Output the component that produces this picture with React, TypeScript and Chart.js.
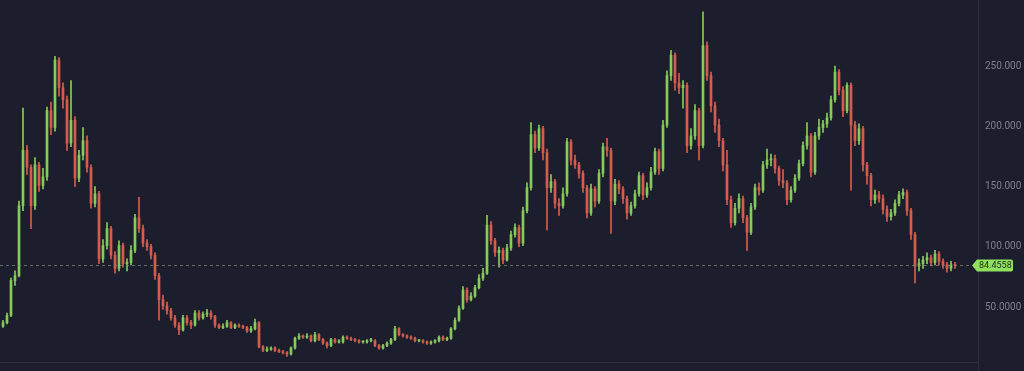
import React, { useEffect, useRef } from "react";
import { Chart, registerables } from "chart.js";

Chart.register(...registerables);

const firstOpen = 34;

const closes = [
  37, 43, 72, 76, 134, 180, 166, 134, 168, 151,
  158, 213, 199, 255, 232, 222, 186, 205, 157, 176,
  188, 166, 136, 144, 90, 101, 115, 93, 82, 101,
  86, 87, 97, 124, 115, 103, 100, 93, 76, 56,
  51, 47, 41, 35, 31, 41, 37, 35, 45, 41,
  44, 45, 42, 35, 33, 34, 37, 33, 35, 34,
  33, 30, 32, 37, 17, 14, 15, 16, 14, 13,
  12, 11, 16, 24, 26, 25, 26, 22, 27, 23,
  20, 18, 23, 21, 21, 25, 24, 23, 22, 21,
  21, 22, 22, 18, 16, 18, 20, 23, 32, 27,
  26, 25, 24, 22, 22, 21, 20, 21, 22, 25,
  23, 24, 32, 39, 49, 64, 56, 59, 66, 74,
  78, 118, 105, 95, 97, 89, 99, 110, 116, 103,
  130, 149, 193, 182, 198, 178, 149, 154, 136, 134,
  144, 187, 172, 168, 161, 149, 128, 148, 138, 161,
  183, 180, 138, 152, 148, 140, 128, 134, 144, 159,
  143, 149, 162, 179, 165, 201, 242, 259, 236, 232,
  234, 184, 192, 213, 184, 267, 242, 217, 201, 188,
  168, 139, 120, 132, 140, 124, 112, 133, 149, 147,
  168, 172, 173, 165, 155, 153, 139, 147, 157, 169,
  184, 192, 162, 192, 199, 202, 207, 222, 245, 230,
  213, 234, 201, 188, 198, 168, 159, 139, 143, 140,
  131, 125, 128, 136, 143, 145, 130, 110, 84, 86,
  89, 91, 87, 94, 88, 85, 82, 85, 84.4558,
];

const highs = [
  39, 45, 74, 80, 138, 215, 184, 168, 174, 170,
  165, 216, 220, 258, 257, 236, 225, 238, 208, 180,
  199, 192, 168, 150, 146, 106, 120, 117, 96, 105,
  103, 90, 101, 127, 141, 118, 106, 102, 95, 78,
  60, 54, 49, 43, 37, 43, 43, 39, 47, 47,
  46, 48, 47, 43, 36, 36, 39, 38, 36, 36,
  35, 34, 34, 40, 38, 18, 17, 17, 17, 15,
  14, 13, 17, 25, 28, 27, 28, 27, 29, 28,
  24, 21, 24, 24, 23, 26, 26, 25, 24, 23,
  22, 23, 24, 23, 19, 19, 21, 24, 34, 33,
  28, 27, 26, 25, 23, 23, 22, 22, 23, 26,
  26, 25, 33, 41, 51, 67, 66, 62, 68, 77,
  82, 126, 121, 107, 100, 99, 102, 113, 119, 118,
  133, 153, 203, 196, 201, 200, 181, 160, 156, 140,
  149, 190, 189, 176, 170, 163, 151, 152, 150, 164,
  186, 190, 182, 156, 155, 150, 142, 137, 147, 162,
  161, 153, 166, 182, 181, 205, 246, 263, 261, 244,
  238, 236, 198, 218, 215, 295, 270, 245, 220, 206,
  190, 180, 142, 136, 144, 142, 126, 136, 152, 153,
  171, 181, 177, 176, 167, 164, 155, 150, 160, 172,
  187, 203, 194, 195, 206, 205, 211, 225, 250, 247,
  233, 236, 236, 204, 202, 200, 170, 161, 147, 146,
  143, 134, 131, 139, 146, 148, 147, 132, 112, 90,
  92, 95, 93, 97, 96, 90, 87, 88, 87,
];

const lows = [
  33, 36, 42, 68, 75, 130, 160, 115, 131, 146,
  148, 155, 193, 196, 225, 215, 180, 183, 150, 154,
  172, 162, 132, 133, 86, 87, 98, 90, 78, 80,
  83, 80, 85, 95, 112, 100, 97, 90, 73, 39,
  48, 44, 39, 33, 27, 30, 35, 32, 34, 39,
  40, 42, 40, 33, 32, 32, 33, 32, 32, 33,
  32, 29, 29, 31, 16, 13, 13, 14, 13, 12,
  11, 9, 10, 15, 23, 24, 24, 21, 21, 22,
  19, 16, 17, 20, 20, 20, 23, 22, 21, 20,
  20, 20, 21, 17, 15, 15, 17, 19, 22, 26,
  25, 24, 23, 21, 21, 20, 19, 19, 20, 21,
  22, 22, 23, 31, 38, 48, 54, 55, 58, 65,
  72, 77, 102, 92, 83, 86, 88, 97, 108, 100,
  101, 128, 147, 178, 180, 172, 114, 145, 132, 126,
  132, 142, 168, 165, 157, 145, 124, 126, 133, 136,
  158, 175, 111, 135, 144, 136, 123, 126, 132, 142,
  139, 141, 147, 160, 160, 163, 199, 238, 230, 227,
  215, 178, 181, 189, 172, 182, 238, 212, 195, 183,
  163, 135, 116, 118, 128, 120, 97, 110, 131, 143,
  145, 165, 167, 161, 151, 149, 135, 137, 145, 155,
  167, 181, 158, 160, 189, 195, 199, 205, 220, 226,
  208, 211, 147, 184, 185, 163, 152, 134, 136, 137,
  127, 121, 122, 126, 134, 140, 126, 106, 70, 80,
  82, 86, 84, 85, 85, 82, 79, 80, 82,
];

const tickValues = [50, 100, 150, 200, 250];
const tickLabels = ["50.0000", "100.000", "150.000", "200.000", "250.000"];
const lastPrice = 84.4558;
const lastPriceLabel = "84.4558";

const GREEN = "#86cc58";
const RED = "#d65d4c";
const BG = "#1d1e2d";

export default function App() {
  const ref = useRef<HTMLCanvasElement>(null);

  useEffect(() => {
    if (!ref.current) return;
    const opens = closes.map((c, i) => (i === 0 ? firstOpen : closes[i - 1]));
    const colors = closes.map((c, i) => (c >= opens[i] ? GREEN : RED));
    const wickData = closes.map((c, i) => ({ x: i, y: [lows[i], highs[i]] }));
    const bodyData = closes.map((c, i) => ({
      x: i,
      y: [Math.min(opens[i], c), Math.max(opens[i], c)],
    }));

    const overlay = {
      id: "overlay",
      afterDatasetsDraw(chart: any) {
        const { ctx, chartArea, scales } = chart;
        ctx.save();
        ctx.strokeStyle = "#2d2f3f";
        ctx.lineWidth = 1;
        ctx.beginPath();
        ctx.moveTo(Math.round(chartArea.right) + 0.5, 0);
        ctx.lineTo(Math.round(chartArea.right) + 0.5, chart.height);
        ctx.moveTo(0, Math.round(chartArea.bottom) + 0.5);
        ctx.lineTo(Math.round(chartArea.right), Math.round(chartArea.bottom) + 0.5);
        ctx.stroke();

        const py = Math.round(scales.y.getPixelForValue(lastPrice)) + 0.5;
        ctx.strokeStyle = "rgba(130,145,120,0.7)";
        ctx.setLineDash([3, 3]);
        ctx.beginPath();
        ctx.moveTo(chartArea.left, py);
        ctx.lineTo(chartArea.right - 6, py);
        ctx.stroke();
        ctx.setLineDash([]);
        ctx.restore();
      },
      afterDraw(chart: any) {
        const { ctx, chartArea, scales } = chart;
        const py = scales.y.getPixelForValue(lastPrice);
        const left = chartArea.right - 6;
        ctx.save();
        ctx.fillStyle = "#8fe05e";
        ctx.beginPath();
        ctx.moveTo(left, py);
        ctx.lineTo(left + 5, py - 6);
        ctx.lineTo(left + 39, py - 6);
        ctx.quadraticCurveTo(left + 41, py - 6, left + 41, py - 4);
        ctx.lineTo(left + 41, py + 4);
        ctx.quadraticCurveTo(left + 41, py + 6, left + 39, py + 6);
        ctx.lineTo(left + 5, py + 6);
        ctx.closePath();
        ctx.fill();
        ctx.fillStyle = "#1d2a1a";
        ctx.font = "9px Roboto, 'DejaVu Sans', sans-serif";
        ctx.textBaseline = "middle";
        ctx.textAlign = "left";
        ctx.fillText(lastPriceLabel, left + 7, py + 0.5);
        ctx.restore();
      },
    };

    const chart = new Chart(ref.current, {
      type: "bar",
      data: {
        datasets: [
          {
            data: wickData as any,
            backgroundColor: colors,
            barThickness: 1,
            grouped: false,
            borderWidth: 0,
          } as any,
          {
            data: bodyData as any,
            backgroundColor: colors,
            barThickness: 2,
            grouped: false,
            borderWidth: 0,
            minBarLength: 1,
          } as any,
        ],
      },
      options: {
        animation: false,
        responsive: false,
        maintainAspectRatio: false,
        layout: { padding: { left: 0, right: 0, top: 0, bottom: 9 } },
        plugins: {
          legend: { display: false },
          tooltip: { enabled: false },
        },
        scales: {
          x: {
            type: "linear",
            min: -0.75,
            max: 243.75,
            offset: false,
            display: false,
          },
          y: {
            position: "right",
            min: 4.36,
            max: 304.8,
            grid: { display: false, drawTicks: false },
            border: { display: false },
            afterBuildTicks(scale: any) {
              scale.ticks = tickValues.map((v) => ({ value: v }));
            },
            afterFit(scale: any) {
              scale.width = 46;
              scale.paddingTop = 0;
              scale.paddingBottom = 0;
            },
            ticks: {
              padding: 7,
              color: "#7d808e",
              font: { family: "Roboto, 'DejaVu Sans', sans-serif", size: 10 },
              callback: (v: any) => {
                const k = tickValues.indexOf(Number(v));
                return k >= 0 ? tickLabels[k] : "";
              },
            },
          },
        },
      },
      plugins: [overlay],
    });

    return () => chart.destroy();
  }, []);

  return (
    <div
      style={{
        position: "fixed",
        left: 0,
        top: 0,
        width: 1024,
        height: 371,
        background: BG,
      }}
    >
      <canvas ref={ref} width={1024} height={371} style={{ display: "block" }} />
    </div>
  );
}
